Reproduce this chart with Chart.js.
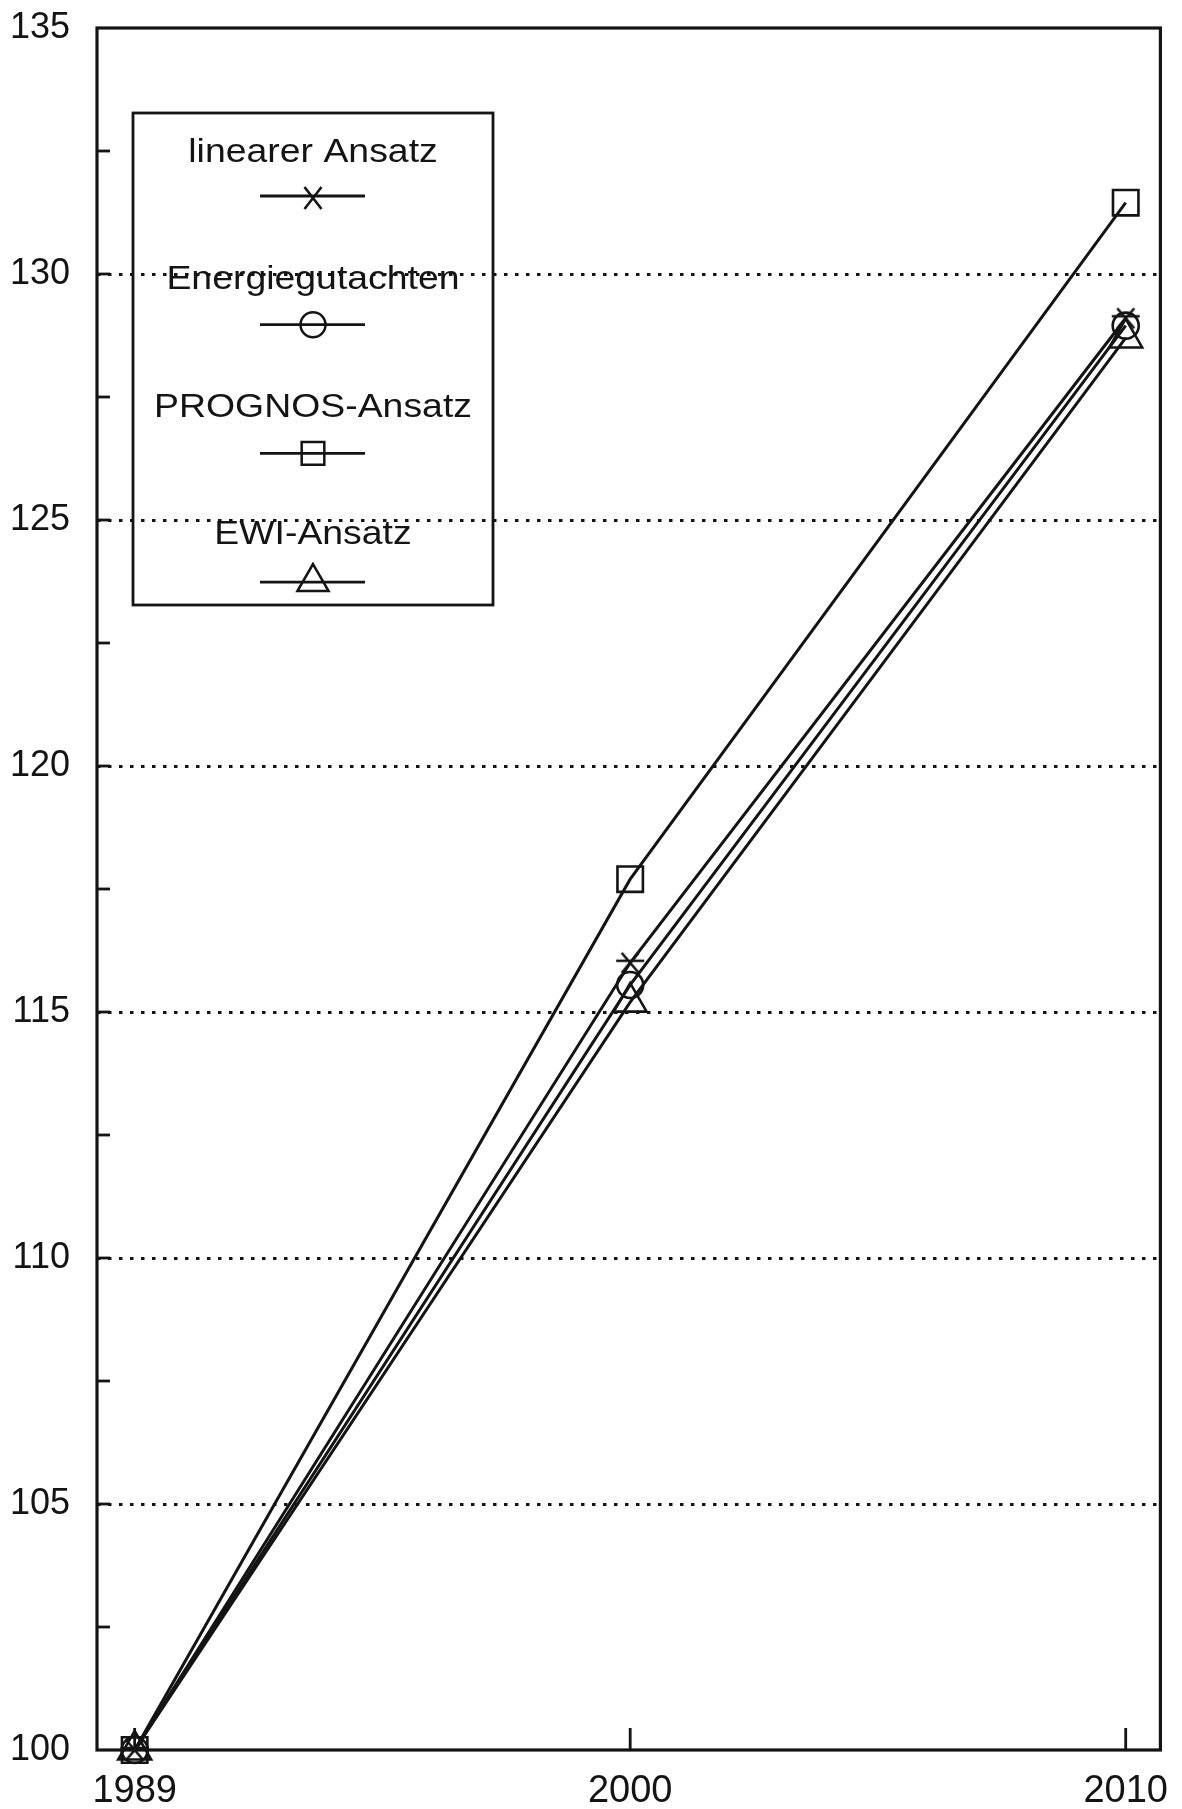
<!DOCTYPE html>
<html>
<head>
<meta charset="utf-8">
<script src="https://cdn.jsdelivr.net/npm/chart.js@4.4.1/dist/chart.umd.min.js"></script>
<style>
html, body { margin: 0; padding: 0; background: #fff; }
#wrap { width: 1182px; height: 1809px; }
</style>
</head>
<body>
<div id="wrap"><canvas id="lineChart" width="1182" height="1809"></canvas></div>
<script>
// Jahre (gleichmäßig verteilt) und Werte (Index 1989 = 100)
const jahre = ['1989', '2000', '2010'];
const linearerAnsatz = [100, 116.0, 129.1];
const energiegutachten = [100, 115.55, 128.95];
const prognosAnsatz = [100, 117.7, 131.45];
const ewiAnsatz = [100, 115.2, 128.7];
const serienNamen = ['linearer Ansatz', 'Energiegutachten', 'PROGNOS-Ansatz', 'EWI-Ansatz'];
const yTicks = [100, 105, 110, 115, 120, 125, 130, 135];

const schwarz = '#141414';
const schrift = '"Liberation Sans", Arial, Helvetica, sans-serif';

// Stern: X mit waagrechtem Strich
function sternBild(w, h, xw, xh, mitStrich) {
    const c = document.createElement('canvas');
    c.width = w; c.height = h;
    const g = c.getContext('2d');
    const mx = w / 2, my = h / 2;
    g.strokeStyle = schwarz;
    g.lineWidth = 2.6;
    g.beginPath();
    g.moveTo(mx - xw / 2, my - xh / 2); g.lineTo(mx + xw / 2, my + xh / 2);
    g.moveTo(mx + xw / 2, my - xh / 2); g.lineTo(mx - xw / 2, my + xh / 2);
    if (mitStrich) { g.moveTo(1, my - 2); g.lineTo(w - 1, my - 2); }
    g.stroke();
    return c;
}
const stern = sternBild(30, 26, 17, 20, true);
const sternKlein = sternBild(22, 26, 17, 22, false);

function punkte(werte) {
    return jahre.map((j, i) => ({ x: i, y: werte[i] }));
}

const serien = [
    { werte: linearerAnsatz, stil: stern, radius: 12, legStil: sternKlein, legRadius: 10 },
    { werte: energiegutachten, stil: 'circle', radius: 13, legStil: 'circle', legRadius: 12.5 },
    { werte: prognosAnsatz, stil: 'rect', radius: 18, legStil: 'rect', legRadius: 16 },
    { werte: ewiAnsatz, stil: 'triangle', radius: 19, legStil: 'triangle', legRadius: 18 }
];

// Rahmen und kleine Striche nach innen
const rahmenPlugin = {
    id: 'rahmen',
    afterDraw(chart) {
        const { ctx, chartArea: a, scales: { x, y } } = chart;
        ctx.save();
        ctx.strokeStyle = schwarz;
        ctx.lineWidth = 3.2;
        ctx.strokeRect(a.left, a.top, a.right - a.left, a.bottom - a.top);
        ctx.lineWidth = 2.8;
        for (let v = 102.5; v < 135; v += 2.5) {
            const py = y.getPixelForValue(v);
            ctx.beginPath(); ctx.moveTo(a.left, py); ctx.lineTo(a.left + 13, py); ctx.stroke();
        }
        jahre.forEach((j, i) => {
            const px = x.getPixelForValue(i);
            ctx.beginPath(); ctx.moveTo(px, a.bottom); ctx.lineTo(px, a.bottom - 22); ctx.stroke();
        });
        ctx.restore();
    }
};

// Legende: Text oben, Linie mit Symbol darunter
const legendePlugin = {
    id: 'legende',
    afterDraw(chart) {
        const ctx = chart.ctx;
        const box = { l: 133, t: 113, r: 493, b: 605 };
        const mx = (box.l + box.r) / 2;
        ctx.save();
        ctx.strokeStyle = schwarz;
        ctx.fillStyle = schwarz;
        ctx.lineWidth = 2.8;
        ctx.strokeRect(box.l, box.t, box.r - box.l, box.b - box.t);
        chart.data.datasets.forEach((ds, i) => {
            const ty = 162 + i * 127.3;
            const ly = 196 + i * 128.7;
            ctx.save();
            ctx.translate(mx, ty);
            ctx.scale(1.1, 1);
            ctx.font = '34px ' + schrift;
            ctx.textAlign = 'center';
            ctx.textBaseline = 'alphabetic';
            ctx.fillText(ds.label, 0, 0);
            ctx.restore();
            ctx.lineWidth = 2.8;
            ctx.beginPath(); ctx.moveTo(260, ly); ctx.lineTo(365, ly); ctx.stroke();
            const s = serien[i];
            if (typeof s.legStil === 'string') {
                ctx.fillStyle = 'rgba(0,0,0,0)';
                ctx.lineWidth = 2.5;
                Chart.helpers.drawPoint(ctx, { pointStyle: s.legStil, radius: s.legRadius, borderWidth: 2.5, rotation: 0 }, mx, ly);
                ctx.fillStyle = schwarz;
            } else {
                ctx.drawImage(s.legStil, mx - s.legStil.width / 2, ly - s.legStil.height / 2 + 2);
            }
        });
        ctx.restore();
    }
};

const ctxLine = document.getElementById('lineChart').getContext('2d');
const lineChart = new Chart(ctxLine, {
    type: 'line',
    data: {
        datasets: serien.map((s, i) => ({
            label: serienNamen[i],
            data: punkte(s.werte),
            borderColor: schwarz,
            borderWidth: 3,
            backgroundColor: 'rgba(0,0,0,0)',
            pointStyle: s.stil,
            pointRadius: s.radius,
            pointBorderWidth: 2.6,
            pointBorderColor: schwarz,
            pointBackgroundColor: 'rgba(0,0,0,0)',
            tension: 0,
            fill: false,
            clip: false
        }))
    },
    options: {
        responsive: false,
        animation: false,
        events: [],
        layout: { padding: { top: 28, right: 10, left: 0, bottom: 0 } },
        scales: {
            x: {
                type: 'linear',
                min: -0.076,
                max: 2.07,
                afterBuildTicks: s => { s.ticks = jahre.map((j, i) => ({ value: i })); },
                afterFit: s => { s.height = 59; s.paddingLeft = 0; s.paddingRight = 0; },
                grid: { display: false, drawTicks: false },
                border: { display: false },
                ticks: {
                    padding: 19,
                    color: schwarz,
                    font: { size: 38, family: schrift },
                    maxRotation: 0,
                    callback: v => jahre[v]
                }
            },
            y: {
                min: 100,
                max: 135,
                afterBuildTicks: s => { s.ticks = yTicks.map(v => ({ value: v })); },
                afterFit: s => { s.width = 97; s.paddingTop = 0; s.paddingBottom = 0; },
                grid: {
                    drawTicks: false,
                    lineWidth: 3,
                    color: c => (c.tick && (c.tick.value === 100 || c.tick.value === 135)) ? 'rgba(0,0,0,0)' : schwarz
                },
                border: { display: false, dash: [3.5, 7.5] },
                ticks: {
                    padding: 27,
                    color: schwarz,
                    font: { size: 36, family: schrift },
                    callback: v => String(v)
                }
            }
        },
        plugins: {
            legend: { display: false },
            tooltip: { enabled: false }
        }
    },
    plugins: [rahmenPlugin, legendePlugin]
});
</script>
</body>
</html>
